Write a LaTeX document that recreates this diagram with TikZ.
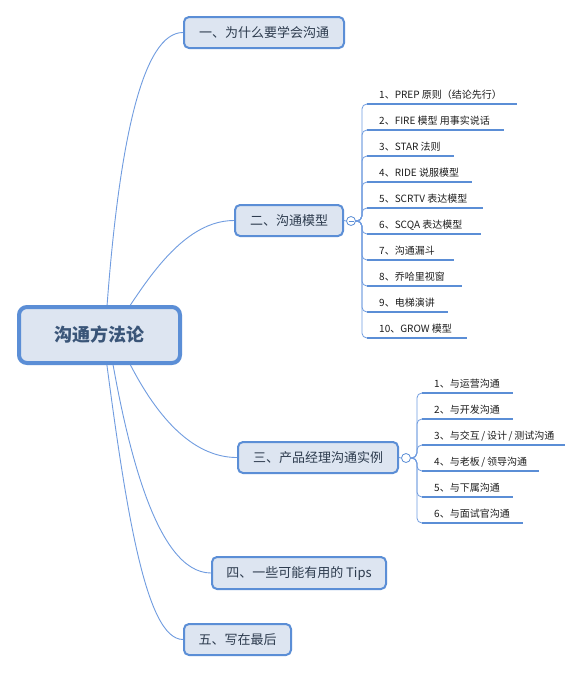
\documentclass[tikz,border=0pt]{standalone}
\usepackage{fontspec}
\newfontfamily\cjk{Noto Sans CJK SC}
\usetikzlibrary{backgrounds}
\definecolor{lineblue}{RGB}{91,142,214}
\definecolor{boxfill}{RGB}{221,229,241}
\definecolor{wireblue}{RGB}{112,156,224}
\definecolor{rootink}{RGB}{58,85,120}
\definecolor{boxink}{RGB}{45,59,78}
\definecolor{leafink}{RGB}{30,30,30}
\tikzset{
  rootbox/.style={draw=lineblue, line width=4pt, fill=boxfill, rounded corners=8pt, minimum width=161pt, minimum height=56pt, inner sep=0pt, text=rootink, font=\cjk\bfseries\fontsize{18}{20}\selectfont},
  topic/.style={draw=lineblue, line width=2pt, fill=boxfill, rounded corners=5pt, minimum height=31pt, inner sep=0pt, text=boxink, font=\cjk\fontsize{13}{15}\selectfont},
  fold/.style={circle, draw=lineblue, line width=0.8pt, fill=white, minimum size=9pt, inner sep=0pt},
  leaf/.style={anchor=base west, inner sep=0pt, text=leafink, font=\cjk\fontsize{10}{12}\selectfont},
  uline/.style={draw=lineblue, line width=2.6pt},
  stem/.style={draw=wireblue, line width=0.9pt},
  twig/.style={draw=wireblue, line width=0.8pt, rounded corners=5pt},
}

\begin{document}
\begin{tikzpicture}[x=1pt, y=-1pt]
	%%%%% START %%%%%
	\useasboundingbox (0,0) rectangle (583,673);
	
	\node[rootbox] (root) at (99.5,335) {沟通方法论};
	\node[topic, minimum width=160pt] (b1) at (264,32.5) {一、为什么要学会沟通};
	\node[topic, minimum width=108pt] (b2) at (289,220.5) {二、沟通模型};
	\node[topic, minimum width=160pt] (b3) at (318,457.5) {三、产品经理沟通实例};
	\node[topic, minimum width=174pt, minimum height=32pt] (b4) at (299,573) {四、一些可能有用的 Tips};
	\node[topic, minimum width=107pt] (b5) at (237.5,639.5) {五、写在最后};
	
	\node[fold] (k2) at (351,221) {};
	\draw[lineblue, line width=0.8pt] ([xshift=-2.5pt]k2.center) -- ([xshift=2.5pt]k2.center);
	\node[fold] (k3) at (406,458) {};
	
	\begin{scope}[on background layer]
		\fill[white] (0,0) rectangle (583,673);
		\draw[stem] ([xshift=5.5pt]root.center) .. controls +(13,-201) and +(-39,0) .. (b1.west);
		\draw[stem] ([xshift=10.5pt]root.center) .. controls +(25,-33) and +(-59,0) .. (b2.west);
		\draw[stem] ([xshift=16.5pt]root.center) .. controls +(14,30) and +(-67,0) .. (b3.west);
		\draw[stem] ([xshift=8.5pt]root.center) .. controls +(17,105) and +(-56,0) .. (b4.west);
		\draw[stem] ([xshift=3.5pt]root.center) .. controls +(22,170) and +(-38,0) .. (b5.west);
		\draw[twig] (b2.east) -- (k2.west);
		\draw[twig] (b3.east) -- (k3.west);
	\end{scope}
	
	% models
	\coordinate (u1) at (367,104);
	\node[leaf] (c1) at ([shift={(12,-6)}]u1) {1、PREP 原则（结论先行）};
	\draw[uline] (u1) -- ++(150,0);
	\draw[twig] (k2.east) -- ++(6,0) |- (u1);
	
	\coordinate (u2) at (367,130);
	\node[leaf] (c2) at ([shift={(12,-6)}]u2) {2、FIRE 模型 用事实说话};
	\draw[uline] (u2) -- ++(137,0);
	\draw[twig] (k2.east) -- ++(6,0) |- (u2);
	
	\coordinate (u3) at (367,156);
	\node[leaf] (c3) at ([shift={(12,-6)}]u3) {3、STAR 法则};
	\draw[uline] (u3) -- ++(87,0);
	\draw[twig] (k2.east) -- ++(6,0) |- (u3);
	
	\coordinate (u4) at (367,182);
	\node[leaf] (c4) at ([shift={(12,-6)}]u4) {4、RIDE 说服模型};
	\draw[uline] (u4) -- ++(105,0);
	\draw[twig] (k2.east) -- ++(6,0) |- (u4);
	
	\coordinate (u5) at (367,208);
	\node[leaf] (c5) at ([shift={(12,-6)}]u5) {5、SCRTV 表达模型};
	\draw[uline] (u5) -- ++(116,0);
	\draw[twig] (k2.east) -- ++(6,0) |- (u5);
	
	\coordinate (u6) at (367,234);
	\node[leaf] (c6) at ([shift={(12,-6)}]u6) {6、SCQA 表达模型};
	\draw[uline] (u6) -- ++(114,0);
	\draw[twig] (k2.east) -- ++(6,0) |- (u6);
	
	\coordinate (u7) at (367,260);
	\node[leaf] (c7) at ([shift={(12,-6)}]u7) {7、沟通漏斗};
	\draw[uline] (u7) -- ++(87,0);
	\draw[twig] (k2.east) -- ++(6,0) |- (u7);
	
	\coordinate (u8) at (367,286);
	\node[leaf] (c8) at ([shift={(12,-6)}]u8) {8、乔哈里视窗};
	\draw[uline] (u8) -- ++(95,0);
	\draw[twig] (k2.east) -- ++(6,0) |- (u8);
	
	\coordinate (u9) at (367,312);
	\node[leaf] (c9) at ([shift={(12,-6)}]u9) {9、电梯演讲};
	\draw[uline] (u9) -- ++(81,0);
	\draw[twig] (k2.east) -- ++(6,0) |- (u9);
	
	\coordinate (u10) at (367,338);
	\node[leaf] (c10) at ([shift={(12,-6)}]u10) {10、GROW 模型};
	\draw[uline] (u10) -- ++(100,0);
	\draw[twig] (k2.east) -- ++(6,0) |- (u10);
	
	% cases
	\coordinate (v1) at (422,393);
	\node[leaf] (d1) at ([shift={(12,-6)}]v1) {1、与运营沟通};
	\draw[uline] (v1) -- ++(91,0);
	\draw[twig] (k3.east) -- ++(6,0) |- (v1);
	
	\coordinate (v2) at (422,419);
	\node[leaf] (d2) at ([shift={(12,-6)}]v2) {2、与开发沟通};
	\draw[uline] (v2) -- ++(91,0);
	\draw[twig] (k3.east) -- ++(6,0) |- (v2);
	
	\coordinate (v3) at (422,445);
	\node[leaf] (d3) at ([shift={(12,-6)}]v3) {3、与交互\,/\,设计\,/\,测试沟通};
	\draw[uline] (v3) -- ++(143,0);
	\draw[twig] (k3.east) -- ++(6,0) |- (v3);
	
	\coordinate (v4) at (422,471);
	\node[leaf] (d4) at ([shift={(12,-6)}]v4) {4、与老板\,/\,领导沟通};
	\draw[uline] (v4) -- ++(117,0);
	\draw[twig] (k3.east) -- ++(6,0) |- (v4);
	
	\coordinate (v5) at (422,497);
	\node[leaf] (d5) at ([shift={(12,-6)}]v5) {5、与下属沟通};
	\draw[uline] (v5) -- ++(91,0);
	\draw[twig] (k3.east) -- ++(6,0) |- (v5);
	
	\coordinate (v6) at (422,523);
	\node[leaf] (d6) at ([shift={(12,-6)}]v6) {6、与面试官沟通};
	\draw[uline] (v6) -- ++(101,0);
	\draw[twig] (k3.east) -- ++(6,0) |- (v6);
	
	%%%%% END %%%%%
\end{tikzpicture}
\end{document}
